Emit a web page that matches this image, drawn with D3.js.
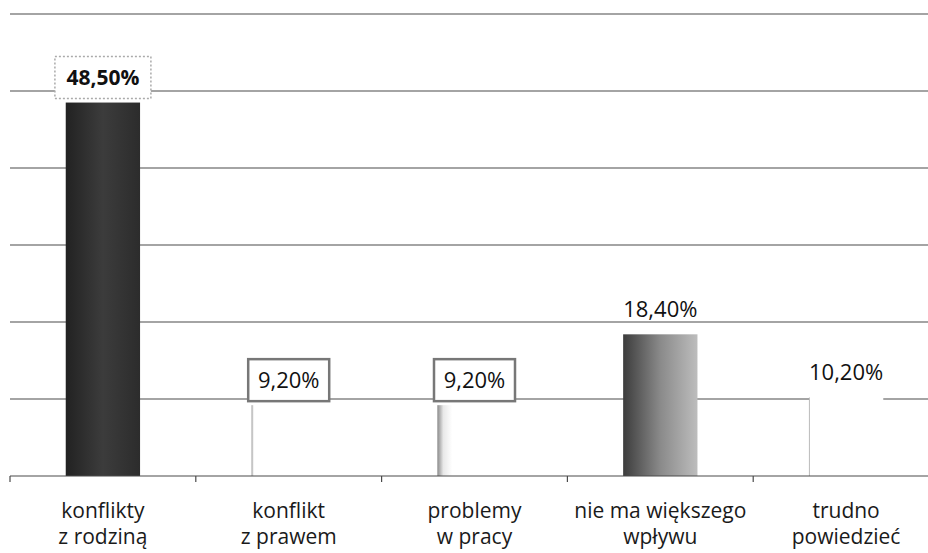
<!DOCTYPE html>
<html><head><meta charset="utf-8">
<script src="https://cdn.jsdelivr.net/npm/d3@7"></script>
<style>body{margin:0;background:#fff}svg{display:block}</style>
</head><body>
<script>
const categories = [["konflikty","z rodziną"],["konflikt","z prawem"],["problemy","w pracy"],["nie ma większego","wpływu"],["trudno","powiedzieć"]];
const values = [48.5, 9.2, 9.2, 18.4, 10.2];
const valueLabels = ["48,50%","9,20%","9,20%","18,40%","10,20%"];
const gridTicks = [0,10,20,30,40,50,60];

const W=928,H=553;
const FONT="'Open Sans', Lato, sans-serif";
const svg=d3.select("body").append("svg").attr("width",W).attr("height",H);
const defs=svg.append("defs");
const grads=[
 {id:"g0",stops:[["0%","#222"],["50%","#3c3c3c"],["100%","#2c2c2c"]]},
 {id:"g1",stops:[["0%","#9a9a9a"],["3%","#ffffff"],["100%","#ffffff"]]},
 {id:"g2",stops:[["0%","#8a8a8a"],["8%","#e8e8e8"],["20%","#ffffff"],["100%","#ffffff"]]},
 {id:"g3",stops:[["0%","#3c3c3c"],["50%","#8a8a8a"],["100%","#bdbdbd"]]},
 {id:"g4",stops:[["0%","#9a9a9a"],["2%","#ffffff"],["100%","#ffffff"]]}
];
grads.forEach(g=>{const lg=defs.append("linearGradient").attr("id",g.id).attr("x1","0").attr("x2","1").attr("y1","0").attr("y2","0");
 g.stops.forEach(s=>lg.append("stop").attr("offset",s[0]).attr("stop-color",s[1]));});

const x=d3.scaleBand().domain(d3.range(categories.length)).range([10,939]).paddingInner(0.6).paddingOuter(0.3);
const y=d3.scaleLinear().domain([0,60]).range([476,14]);

// gridlines
svg.append("g").selectAll("line").data(gridTicks.slice(1)).join("line")
 .attr("x1",10).attr("x2",W).attr("y1",d=>y(d)).attr("y2",d=>y(d))
 .attr("stroke","#4a4a4a").attr("stroke-width",1.2);

// bars
svg.append("g").selectAll("rect").data(values).join("rect")
 .attr("x",(d,i)=>x(i)).attr("width",x.bandwidth())
 .attr("y",d=>y(d)).attr("height",d=>y(0)-y(d))
 .attr("fill",(d,i)=>`url(#g${i})`);

// axis
const xb=d3.scaleLinear().domain([0,5]).range([10,939]);
svg.append("line").attr("x1",10).attr("x2",W).attr("y1",y(0)).attr("y2",y(0)).attr("stroke","#4a4a4a").attr("stroke-width",1.2);
svg.append("g").selectAll("line").data(d3.range(5)).join("line")
 .attr("x1",d=>xb(d)).attr("x2",d=>xb(d)).attr("y1",y(0)).attr("y2",y(0)+6)
 .attr("stroke","#4a4a4a").attr("stroke-width",1.2);

// category labels
const cl=svg.append("g").selectAll("text").data(categories).join("text")
 .attr("x",(d,i)=>x(i)+x.bandwidth()/2).attr("text-anchor","middle")
 .attr("font-family",FONT).attr("font-size",21).attr("fill","#1a1a1a");
cl.append("tspan").attr("x",(d,i)=>x(i)+x.bandwidth()/2).attr("y",518).text(d=>d[0]);
cl.append("tspan").attr("x",(d,i)=>x(i)+x.bandwidth()/2).attr("y",544).text(d=>d[1]);

// value labels
const vl=svg.append("g").selectAll("g").data(values).join("g")
 .attr("transform",(d,i)=>`translate(${x(i)+x.bandwidth()/2},${y(d)-25})`);
const boxStyle=[{w:96,stroke:"#aaa",dash:"2,2",sw:1.5},{w:81,stroke:"#777",dash:null,sw:2.5},{w:81,stroke:"#777",dash:null,sw:2.5},null,null];
vl.each(function(d,i){
 const b=boxStyle[i]; if(!b) return;
 d3.select(this).append("rect").attr("x",-b.w/2).attr("y",-21).attr("width",b.w).attr("height",42)
  .attr("fill","#fff").attr("stroke",b.stroke).attr("stroke-width",b.sw).attr("stroke-dasharray",b.dash);
});
vl.append("text").attr("text-anchor","middle").attr("dy","0.36em")
 .attr("font-family",FONT).attr("font-size",(d,i)=>i===0?21:22)
 .attr("font-weight",(d,i)=>i===0?"bold":"normal").attr("fill","#111")
 .text((d,i)=>valueLabels[i]);
</script>
</body></html>
